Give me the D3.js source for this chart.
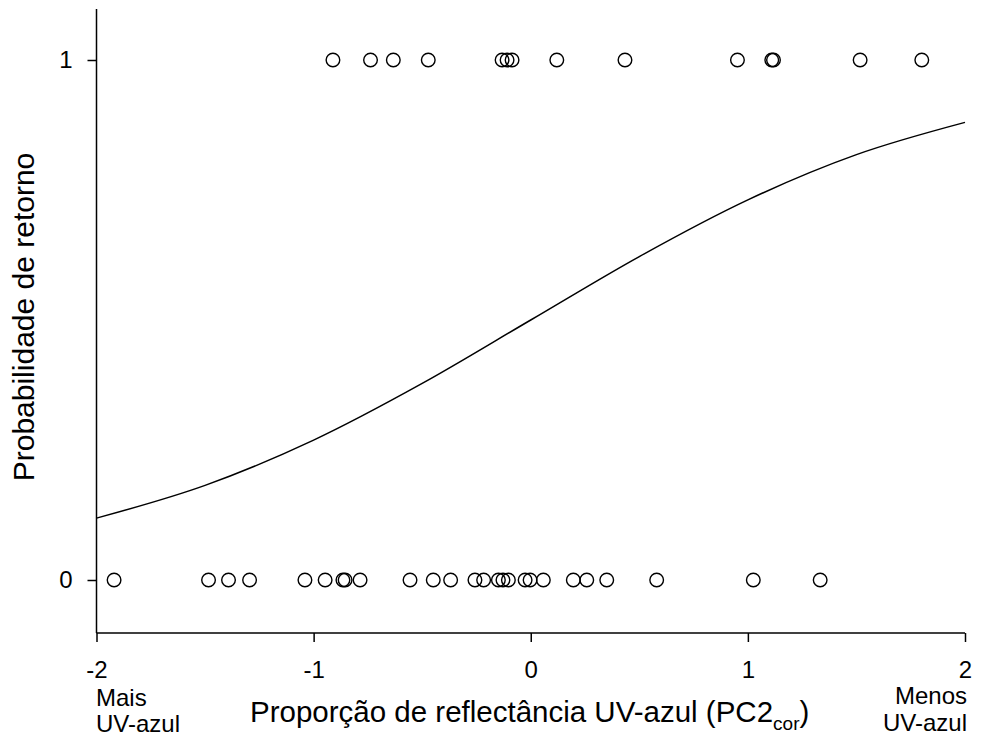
<!DOCTYPE html>
<html>
<head>
<meta charset="utf-8">
<script src="https://cdn.jsdelivr.net/npm/d3@7"></script>
<style>
  body { margin: 0; background: #fff; }
  svg text { font-family: "Liberation Sans", Arial, sans-serif; fill: #000; }
</style>
</head>
<body>
<svg id="chart" width="981" height="742"></svg>
<script>
// Birds that returned (1) or did not return (0), by UV-blue reflectance (PC2cor)
const returnedX = [-0.911, -0.738, -0.633, -0.472, -0.132, -0.109, -0.086, 0.120, 0.434, 0.952, 1.110, 1.118, 1.517, 1.801];
const notReturnedX = [-1.919, -1.484, -1.392, -1.295, -1.040, -0.947, -0.865, -0.855, -0.786,
  -0.556, -0.449, -0.369, -0.257, -0.217, -0.149, -0.128, -0.103, -0.026, -0.003, 0.058,
  0.196, 0.258, 0.350, 0.580, 1.025, 1.333];

// Fitted return probability along the axis
const curveX = [-2, -1.5, -1, -0.5, 0, 0.5, 1, 1.5, 2];
const curveP = [0.119, 0.182, 0.269, 0.378, 0.500, 0.622, 0.731, 0.818, 0.880];

const xTicks = [-2, -1, 0, 1, 2];
const yTicks = [0, 1];

const svg = d3.select("#chart");
const x = d3.scaleLinear().domain([-2, 2]).range([96.5, 965]);
const y = d3.scaleLinear().domain([0, 1]).range([580, 60]);
const axisBottomY = 633;
const FONT = "Liberation Sans, Arial, sans-serif";

// Axes
const xAxis = svg.append("g").attr("transform", `translate(0,${axisBottomY})`)
  .call(d3.axisBottom(x).tickValues(xTicks).tickSize(9).tickPadding(19).tickSizeOuter(0)
    .tickFormat(d => d < 0 ? "-" + Math.abs(d) : String(d)));
xAxis.select(".domain").attr("d", `M${x(-2)},0H${x(2)}`);
xAxis.selectAll("text").attr("font-size", 24).attr("font-family", FONT);

const yAxis = svg.append("g").attr("transform", `translate(${x(-2)},0)`)
  .call(d3.axisLeft(y).tickValues(yTicks).tickSize(9).tickPadding(15).tickSizeOuter(0)
    .tickFormat(d => String(d)));
yAxis.select(".domain").attr("d", `M0,9V${axisBottomY}`);
yAxis.selectAll("text").attr("font-size", 24).attr("font-family", FONT);
svg.selectAll(".domain, .tick line").attr("stroke", "#000").attr("stroke-width", 1.5);

// Fitted curve
const line = d3.line().x((d, i) => x(curveX[i])).y(d => y(d)).curve(d3.curveMonotoneX);
svg.append("path").attr("d", line(curveP))
  .attr("fill", "none").attr("stroke", "#000").attr("stroke-width", 1.5);

// Observations
const pts = returnedX.map(v => [v, 1]).concat(notReturnedX.map(v => [v, 0]));
svg.append("g").selectAll("circle").data(pts).join("circle")
  .attr("cx", d => x(d[0])).attr("cy", d => y(d[1])).attr("r", 6.8)
  .attr("fill", "none").attr("stroke", "#000").attr("stroke-width", 1.4);

// Axis titles
svg.append("text")
  .attr("transform", `translate(34,${(y(0) + y(1)) / 2 - 3}) rotate(-90)`)
  .attr("text-anchor", "middle").attr("font-size", 30)
  .text("Probabilidade de retorno");

const xt = svg.append("text").attr("x", 250).attr("y", 722).attr("font-size", 29.5);
xt.append("tspan").text("Proporção de reflectância UV-azul (PC2");
xt.append("tspan").attr("font-size", 19).attr("dy", 8).text("cor");
xt.append("tspan").attr("dy", -8).text(")");

// End notes under the axis
svg.append("text").attr("x", 96).attr("y", 706).attr("font-size", 24).text("Mais");
svg.append("text").attr("x", 96).attr("y", 732).attr("font-size", 24).text("UV-azul");
svg.append("text").attr("x", 967).attr("y", 704).attr("font-size", 24).attr("text-anchor", "end").text("Menos");
svg.append("text").attr("x", 967).attr("y", 731).attr("font-size", 24).attr("text-anchor", "end").text("UV-azul");
</script>
</body>
</html>
